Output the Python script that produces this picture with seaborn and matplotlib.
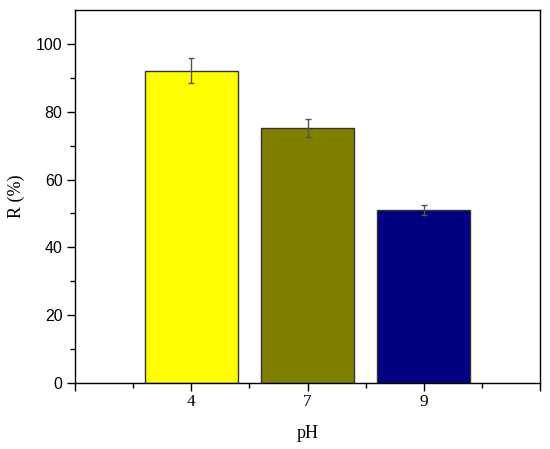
import matplotlib
matplotlib.use("Agg")
import matplotlib.pyplot as plt
import seaborn as sns
import pandas as pd
from matplotlib.ticker import FixedLocator

ph = ["4", "7", "9"]
r_values = [92.1, 75.2, 51.0]
r_errors = [3.6, 2.75, 1.6]
colors = ["#FFFF00", "#808000", "#000080"]

df = pd.DataFrame({"pH": ph, "R": r_values})

sns.set_style("ticks")
fig = plt.figure(figsize=(5.5, 4.49), dpi=100)
ax = fig.add_axes([75/550, 1-383/449, (540-75)/550, (383-10)/449])

sns.barplot(data=df, x="pH", y="R", hue="pH", palette=colors, order=ph,
            width=0.8, saturation=1, edgecolor="#333333", linewidth=1.0,
            legend=False, ax=ax, errorbar=None)
ax.errorbar(range(len(ph)), r_values, yerr=r_errors, fmt="none",
            ecolor="#555555", elinewidth=1.0, capsize=2.5, capthick=1.0)

ax.set_xlim(-1, 3)
ax.set_ylim(0, 110)
ax.xaxis.set_major_locator(FixedLocator([-1, 0, 1, 2, 3]))
ax.set_xticklabels([""] + ph + [""], fontfamily="Liberation Serif", fontsize=12.5)
ax.xaxis.set_minor_locator(FixedLocator([-0.5, 0.5, 1.5, 2.5]))
ax.yaxis.set_major_locator(FixedLocator([0, 20, 40, 60, 80, 100]))
ax.yaxis.set_minor_locator(FixedLocator([10, 30, 50, 70, 90]))
for lab in ax.get_yticklabels():
    lab.set_fontfamily("Liberation Sans")
    lab.set_fontsize(11.5)

ax.tick_params(axis="both", which="major", direction="out", length=6, width=1,
               color="black", labelcolor="black")
ax.tick_params(axis="both", which="minor", direction="out", length=3.5, width=1, color="black")
ax.tick_params(axis="x", which="major", pad=2)
ax.tick_params(axis="y", which="major", pad=3)

for s in ax.spines.values():
    s.set_visible(True)
    s.set_color("black")
    s.set_linewidth(1.0)

ax.set_xlabel("pH", fontfamily="Liberation Serif", fontsize=13, labelpad=11, color="black")
ax.set_ylabel("R (%)", fontfamily="Liberation Serif", fontsize=13, labelpad=8, color="black")

fig.savefig("out.png", dpi=100)
